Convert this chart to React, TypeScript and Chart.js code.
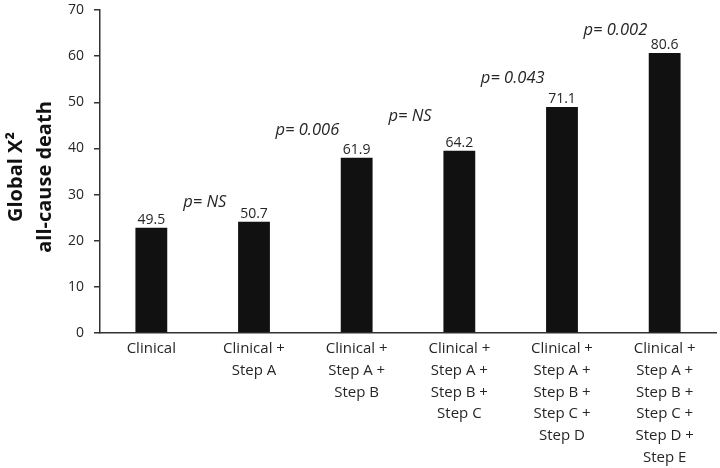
import React, { useEffect, useRef } from "react";
import { Chart, registerables } from "chart.js";

Chart.register(...registerables);

const categories: string[][] = [
  ["Clinical"],
  ["Clinical +", "Step A"],
  ["Clinical +", "Step A +", "Step B"],
  ["Clinical +", "Step A +", "Step B +", "Step C"],
  ["Clinical +", "Step A +", "Step B +", "Step C +", "Step D"],
  ["Clinical +", "Step A +", "Step B +", "Step C +", "Step D +", "Step E"],
];
const barValues = [22.8, 24.1, 38.0, 39.5, 49.0, 60.7];
const barLabels = ["49.5", "50.7", "61.9", "64.2", "71.1", "80.6"];
const pLabels = ["p= NS", "p= 0.006", "p= NS", "p= 0.043", "p= 0.002"];
const pLabelY = [28.4, 44.0, 46.9, 55.1, 65.7];
const yTicks = [0, 10, 20, 30, 40, 50, 60, 70];
const titleLines = ["Global X\u00B2", "all-cause death"];

const FONT = "'Open Sans', sans-serif";
const TEXT = "#262626";

const annotations = {
  id: "annotations",
  afterDatasetsDraw(chart: any) {
    const ctx = chart.ctx;
    const x = chart.scales.x;
    const y = chart.scales.y;
    ctx.save();
    ctx.fillStyle = TEXT;
    ctx.textAlign = "center";
    ctx.textBaseline = "alphabetic";
    ctx.font = `14px ${FONT}`;
    barValues.forEach((v, i) => {
      ctx.fillText(barLabels[i], x.getPixelForValue(i), y.getPixelForValue(v) - 4);
    });
    ctx.font = `italic 16.5px ${FONT}`;
    ctx.textBaseline = "middle";
    pLabels.forEach((t, i) => {
      ctx.fillText(t, x.getPixelForValue(i + 0.52), y.getPixelForValue(pLabelY[i]));
    });
    ctx.font = `bold 20px ${FONT}`;
    ctx.fillStyle = "#111";
    const cy = 177;
    const xs = [16, 45];
    titleLines.forEach((t, i) => {
      ctx.save();
      ctx.translate(xs[i], cy);
      ctx.rotate(-Math.PI / 2);
      ctx.fillText(t, 0, 0);
      ctx.restore();
    });
    ctx.restore();
  },
};

export default function App() {
  const ref = useRef<HTMLCanvasElement | null>(null);
  useEffect(() => {
    if (!ref.current) return;
    const chart = new Chart(ref.current, {
      type: "bar",
      data: {
        labels: categories,
        datasets: [
          {
            data: barValues,
            backgroundColor: "#111111",
            borderWidth: 0,
            barPercentage: 0.31,
            categoryPercentage: 1,
          },
        ],
      },
      options: {
        animation: false,
        responsive: false,
        maintainAspectRatio: false,
        layout: { padding: { top: 10, right: 4, left: 0, bottom: 0 } },
        plugins: { legend: { display: false }, tooltip: { enabled: false }, title: { display: false } },
        scales: {
          x: {
            grid: { display: false, drawTicks: false },
            border: { display: true, color: "#333", width: 1.5 },
            ticks: {
              color: TEXT,
              font: { family: FONT, size: 15, lineHeight: 1.45 },
              padding: 5,
              maxRotation: 0,
              autoSkip: false,
            },
            afterFit: (s: any) => {
              s.height = 135;
              s.paddingLeft = 0;
              s.paddingRight = 0;
            },
          },
          y: {
            min: 0,
            max: 70,
            afterBuildTicks: (s: any) => {
              s.ticks = yTicks.map((v) => ({ value: v }));
            },
            grid: { drawOnChartArea: false, drawTicks: true, tickLength: 6, color: "#333", lineWidth: 1.5 },
            border: { display: true, color: "#333", width: 1.5 },
            ticks: {
              color: TEXT,
              font: { family: FONT, size: 14 },
              padding: 10,
            },
            afterFit: (s: any) => {
              s.width = 100;
              s.paddingTop = 0;
              s.paddingBottom = 0;
            },
          },
        },
      },
      plugins: [annotations],
    });
    return () => chart.destroy();
  }, []);
  return (
    <div style={{ position: "fixed", left: 0, top: 0, width: 720, height: 468, background: "#fff" }}>
      <canvas ref={ref} width={720} height={468} style={{ width: 720, height: 468 }} />
    </div>
  );
}
